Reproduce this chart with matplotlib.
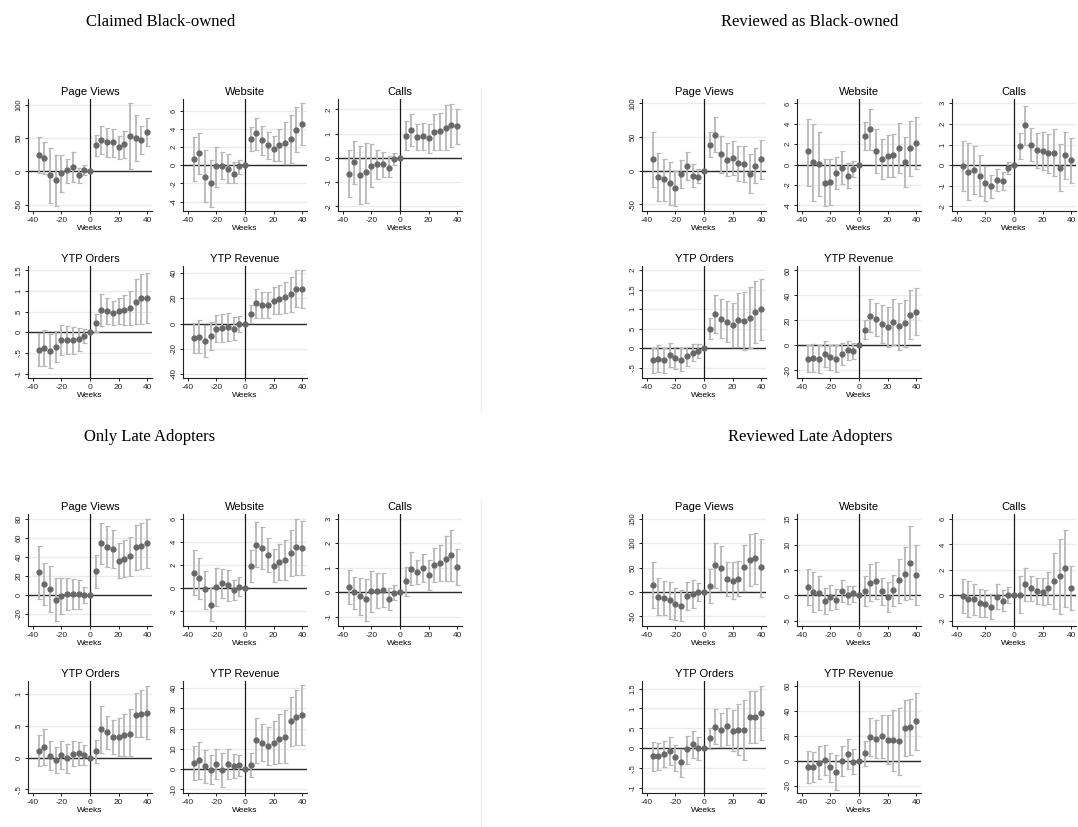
import numpy as np
import matplotlib.pyplot as plt
from matplotlib.lines import Line2D

nan = np.nan

weeks = [-36, -32, -28, -24, -20, -16, -12, -8, -4, 0, 4, 8, 12, 16, 20, 24, 28, 32, 36, 40]
outcomes = ["Page Views", "Website", "Calls", "YTP Orders", "YTP Revenue"]
panel_titles = ["Claimed Black-owned", "Reviewed as Black-owned",
                "Only Late Adopters", "Reviewed Late Adopters"]

# ---- Claimed Black-owned
claimed_pv = [25.5, 20, -5, -13, -2, 1.5, 7, -6, 2, 0, 39.5, 48, 44.5, 44.5, 37, 41, 53, 51, 48, 59.5]
claimed_pv_lo = [-3, -4, -48, -52, -31, -17, -16, -18, -6, nan, 23, 27, 22, 22, 19, 19.5, 4, 16, 27, 38]
claimed_pv_hi = [52, 45, 36, 25, 25, 19, 30, 5, 10, nan, 55, 69, 65, 64, 54, 61, 103, 85, 68, 81]
claimed_web = [0.7, 1.4, -1.25, -2.0, -0.1, -0.05, -0.35, -1.0, -0.1, 0, 2.9, 3.55, 2.8, 2.25, 1.85, 2.25, 2.45, 2.9, 3.95, 4.55]
claimed_web_lo = [-1.7, -0.9, -4.1, -4.6, -2.35, -1.55, -1.9, -2.0, -0.9, nan, 1.6, 1.7, 1.1, 0.75, 0.5, 0.5, 0.15, 0.25, 1.45, 2.3]
claimed_web_hi = [3.15, 3.6, 1.65, 0.6, 2.0, 1.45, 1.3, 0.4, 0.6, nan, 4.25, 5.3, 4.4, 3.65, 3.3, 4.0, 4.75, 5.55, 6.45, 6.9]
claimed_calls = [-0.67, -0.19, -0.73, -0.6, -0.32, -0.27, -0.26, -0.41, -0.07, 0, 0.92, 1.15, 0.85, 0.88, 0.81, 1.06, 1.1, 1.25, 1.35, 1.3]
claimed_calls_lo = [-1.64, -1.09, -1.92, -1.86, -1.22, -0.88, -0.78, -0.81, -0.3, nan, 0.32, 0.5, 0.32, 0.34, 0.21, 0.32, 0.34, 0.32, 0.45, 0.55]
claimed_calls_hi = [0.32, 0.69, 0.48, 0.63, 0.59, 0.32, 0.25, 0.07, 0.18, nan, 1.53, 1.83, 1.38, 1.42, 1.39, 1.83, 1.86, 2.2, 2.24, 2.03]
claimed_ord = [-0.42, -0.37, -0.45, -0.35, -0.19, -0.19, -0.19, -0.17, -0.08, 0, 0.23, 0.54, 0.52, 0.46, 0.52, 0.53, 0.58, 0.74, 0.82, 0.84]
claimed_ord_lo = [-0.82, -0.82, -0.87, -0.72, -0.56, -0.53, -0.53, -0.46, -0.26, nan, 0.01, 0.15, 0.2, 0.17, 0.19, 0.17, 0.17, 0.19, 0.21, 0.23]
claimed_ord_hi = [-0.02, 0.05, -0.04, 0.03, 0.17, 0.15, 0.13, 0.11, 0.09, nan, 0.45, 0.92, 0.82, 0.75, 0.84, 0.9, 1.0, 1.29, 1.42, 1.44]
claimed_rev = [-11.1, -10.3, -13.8, -9.8, -4.0, -3.4, -2.6, -4.0, 0, 0, 7.2, 15.9, 14.6, 14.6, 17.5, 19.1, 20.9, 23.1, 27.3, 27.3]
claimed_rev_lo = [-23.3, -23.6, -26.2, -20.9, -14.8, -14.3, -13.5, -12.7, -6.4, nan, 0.3, 4.2, 4.2, 4.2, 7.2, 7.4, 8.5, 9.5, 12.7, 12.5]
claimed_rev_hi = [0.8, 2.6, -0.8, 1.3, 6.4, 7.4, 8.2, 4.8, 6.1, nan, 14.3, 27.6, 25.2, 25.2, 28.9, 30.7, 33.1, 36.8, 42.1, 42.1]

# ---- Reviewed as Black-owned
reviewed_pv = [16.7, -9.3, -13, -18, -26, -5, 7, -8, -9, 0, 38.8, 53, 25, 16, 18.7, 10.8, 10, -4.4, 7.4, 16.7]
reviewed_pv_lo = [-24, -45, -45, -51, -52, -26, -14, -25, -18, nan, 20, 27, -3.4, -8, -6, -15, -17, -33, -19, -12]
reviewed_pv_hi = [57, 26, 18, 13, 0, 16, 28, 10, 2, nan, 57, 79, 52, 41, 44, 37, 37, 24, 34, 45]
reviewed_web = [1.28, 0.2, 0.07, -1.8, -1.74, -0.85, -0.33, -1.1, -0.46, 0, 2.76, 3.44, 1.34, 0.56, 0.85, 0.89, 1.67, 0.23, 1.6, 2.1]
reviewed_web_lo = [-2.1, -3.6, -3.1, -4.1, -4.0, -2.4, -1.93, -2.33, -1.25, nan, 1.38, 1.44, -0.85, -1.38, -1.21, -1.18, -0.79, -2.23, -1.08, -0.46]
reviewed_web_hi = [4.5, 4.0, 3.15, 0.5, 0.56, 0.7, 1.28, 0.13, 0.3, nan, 4.13, 5.44, 3.48, 2.5, 2.92, 2.98, 4.07, 2.69, 4.3, 4.62]
reviewed_calls = [-0.03, -0.32, -0.26, -0.53, -0.89, -1.02, -0.71, -0.78, -0.13, 0, 0.92, 1.93, 1.0, 0.71, 0.7, 0.57, 0.61, -0.13, 0.47, 0.23]
reviewed_calls_lo = [-1.28, -1.68, -1.42, -1.5, -1.72, -1.6, -1.24, -1.23, -0.44, nan, 0.28, 1.0, 0.18, -0.15, -0.26, -0.39, -0.55, -1.28, -0.68, -0.87]
reviewed_calls_hi = [1.15, 1.05, 0.91, 0.47, -0.03, -0.47, -0.19, -0.32, 0.16, nan, 1.55, 2.86, 1.81, 1.55, 1.63, 1.52, 1.76, 1.02, 1.6, 1.31]
reviewed_ord = [-0.31, -0.27, -0.31, -0.18, -0.26, -0.3, -0.21, -0.12, -0.085, 0, 0.5, 0.88, 0.75, 0.68, 0.59, 0.73, 0.7, 0.78, 0.94, 1.0]
reviewed_ord_lo = [-0.63, -0.61, -0.63, -0.48, -0.55, -0.58, -0.47, -0.34, -0.26, nan, 0.23, 0.39, 0.25, 0.15, 0.03, 0.03, -0.04, 0.0, 0.14, 0.21]
reviewed_ord_hi = [0.0, 0.07, 0.0, 0.12, 0.03, -0.01, 0.04, 0.1, 0.1, nan, 0.77, 1.36, 1.25, 1.21, 1.15, 1.42, 1.45, 1.57, 1.73, 1.77]
reviewed_rev = [-10.7, -10.4, -11.2, -6.9, -9.6, -10.9, -6.9, -4.0, -4.8, 0, 12.5, 23.7, 20.8, 17.1, 14.4, 18.7, 15.2, 17.6, 24.5, 26.9]
reviewed_rev_lo = [-21.6, -21.6, -22.4, -17.6, -20, -21.3, -16, -11.7, -11.2, nan, 5.1, 10.7, 7.5, 2.1, -1.3, 0.5, -4, -1.1, 5.3, 8.5]
reviewed_rev_hi = [0, 0.8, 0, 3.5, 0.5, 0, 1.9, 3.5, 1.6, nan, 20, 36.8, 33.9, 32, 30.4, 36.8, 34.1, 36.5, 44, 45.6]

# ---- Only Late Adopters
late_pv = [23.6, 10.9, 5.6, -5.3, -1.4, 1.1, 0.7, 0.35, 0, 0, 24.6, 54.2, 50.7, 48.2, 35.9, 38, 40.5, 50, 51, 54.2]
late_pv_lo = [-4.2, -11, -18.7, -27.8, -20.8, -16.2, -15.5, -14.8, -9.2, nan, 7.4, 32.4, 28.9, 28.5, 17.2, 19, 19.7, 26, 26.7, 28.5]
late_pv_hi = [51.4, 33.5, 30.6, 17.2, 17.9, 17.9, 16.9, 15.1, 8.4, nan, 41.5, 76, 72.5, 67.9, 54.9, 57.4, 61.2, 73.9, 75.3, 80.3]
late_web = [1.35, 0.86, -0.09, -1.41, 0.14, 0.43, 0.26, -0.12, 0.12, 0, 1.96, 3.77, 3.51, 2.85, 1.96, 2.28, 2.48, 3.08, 3.57, 3.51]
late_web_lo = [-0.6, -0.95, -1.76, -2.85, -1.53, -0.84, -1.09, -1.04, -0.66, nan, 0.58, 1.87, 1.7, 1.38, 0.55, 0.72, 0.72, 1.09, 1.12, 1.12]
late_web_hi = [3.3, 2.65, 1.53, 0.12, 1.79, 1.67, 1.58, 0.75, 0.95, nan, 3.34, 5.7, 5.32, 4.32, 3.37, 3.8, 4.2, 5.04, 6.0, 5.85]
late_calls = [0.22, 0.0, -0.16, -0.29, 0.04, 0.07, 0.08, -0.27, -0.03, 0, 0.44, 0.97, 0.82, 1.0, 0.71, 1.13, 1.19, 1.37, 1.52, 1.04]
late_calls_lo = [-0.46, -0.67, -0.93, -1.17, -0.79, -0.63, -0.6, -0.71, -0.33, nan, -0.16, 0.29, 0.33, 0.41, 0.11, 0.42, 0.44, 0.44, 0.48, 0.29]
late_calls_hi = [0.9, 0.64, 0.6, 0.56, 0.85, 0.77, 0.77, 0.19, 0.29, nan, 1.04, 1.65, 1.31, 1.57, 1.3, 1.82, 1.93, 2.32, 2.54, 1.78]
late_ord = [0.105, 0.17, 0.03, -0.04, 0.04, -0.005, 0.06, 0.07, 0.04, 0, 0.1, 0.45, 0.4, 0.33, 0.33, 0.36, 0.38, 0.67, 0.69, 0.71]
late_ord_lo = [-0.14, -0.12, -0.2, -0.25, -0.18, -0.24, -0.14, -0.12, -0.12, nan, -0.08, 0.07, 0.14, 0.06, 0.03, 0.02, 0.02, 0.32, 0.32, 0.3]
late_ord_hi = [0.35, 0.45, 0.26, 0.17, 0.26, 0.22, 0.26, 0.25, 0.2, nan, 0.27, 0.82, 0.66, 0.59, 0.63, 0.69, 0.77, 1.02, 1.07, 1.13]
late_rev = [3.0, 4.3, 1.5, -0.2, 2.5, -0.3, 2.6, 1.65, 1.8, 0, 2.1, 14.2, 13.0, 11.4, 13.0, 15.0, 16.0, 23.8, 25.6, 26.7]
late_rev_lo = [-5.4, -5.1, -6.8, -7.3, -5.1, -8.6, -4.8, -4.6, -3.5, nan, -3.8, 3.1, 4.0, 2.0, 2.5, 3.1, 2.8, 11.4, 12.0, 12.0]
late_rev_hi = [11.4, 13.5, 9.6, 7.1, 10.1, 7.9, 10.1, 7.6, 6.9, nan, 7.9, 25.4, 22.1, 20.8, 23.6, 27.1, 29.2, 35.8, 39.1, 41.6]

# ---- Reviewed Late Adopters
revlate_pv = [14.3, -9.5, -12.2, -17, -25.2, -28.6, -8.8, -4.8, 0.7, 0, 11.6, 54.4, 48.3, 25.8, 22.4, 26.5, 50.3, 65.3, 69.4, 50.3]
revlate_pv_lo = [-33, -48, -47.6, -55.8, -58.5, -59.8, -37.4, -34, -18.4, nan, -22.4, 8.8, 1.4, -8.2, -14.3, -7.5, 2, 12.2, 17, -9.5]
revlate_pv_hi = [62, 28, 21.8, 21, 8.8, 3.4, 19.7, 24.5, 17.7, nan, 47, 100, 95.2, 61.2, 60.5, 64, 97.2, 119, 121, 108.8]
revlate_web = [1.63, 0.65, 0.52, -1.1, -0.4, -0.8, 0.85, 0.13, 0.4, 0, 0.85, 2.5, 2.9, 0.78, -0.26, 0.98, 3.0, 4.3, 6.4, 4.0]
revlate_web_lo = [-1.9, -3.25, -2.85, -3.7, -2.85, -2.7, -1.3, -1.7, -1.2, nan, -2.1, -1.1, -0.7, -1.95, -3.2, -2.1, -1.43, -0.8, -0.65, -1.9]
revlate_web_hi = [5.1, 4.55, 3.8, 1.5, 2.15, 1.2, 3.05, 1.9, 1.9, nan, 3.77, 6.1, 6.6, 3.5, 2.67, 4.0, 7.2, 9.5, 13.6, 10]
revlate_calls = [-0.05, -0.31, -0.29, -0.58, -0.66, -0.89, -0.1, -0.42, 0.03, 0, 0.03, 0.87, 0.58, 0.34, 0.29, 0.58, 1.1, 1.5, 2.15, 0.58]
revlate_calls_lo = [-1.39, -1.7, -1.52, -1.7, -1.7, -1.84, -1.08, -1.23, -0.6, nan, -1.42, -0.47, -0.42, -0.66, -0.76, -0.71, -1.1, -1.47, -0.89, -1.2]
revlate_calls_hi = [1.26, 1.1, 0.92, 0.52, 0.39, 0.08, 0.87, 0.39, 0.66, nan, 1.5, 2.18, 1.55, 1.34, 1.34, 1.84, 3.3, 4.43, 5.14, 2.33]
revlate_ord = [-0.19, -0.19, -0.14, -0.06, -0.23, -0.35, -0.03, 0.1, 0.0, 0, 0.25, 0.54, 0.46, 0.55, 0.43, 0.46, 0.47, 0.78, 0.78, 0.88]
revlate_ord_lo = [-0.56, -0.54, -0.48, -0.41, -0.56, -0.73, -0.39, -0.24, -0.29, nan, -0.03, 0.1, 0.04, 0.08, -0.08, -0.18, -0.29, 0.12, 0.13, 0.21]
revlate_ord_hi = [0.16, 0.14, 0.18, 0.29, 0.08, -0.03, 0.32, 0.44, 0.28, nan, 0.52, 0.98, 0.88, 1.01, 0.96, 1.11, 1.21, 1.43, 1.43, 1.56]
revlate_rev = [-5.1, -5.1, -1.6, 0.5, -5.4, -9.4, 0, 5.6, -0.8, 0, 5.9, 18.8, 17.7, 19.6, 16.9, 16.4, 15.6, 26.3, 27.1, 31.7]
revlate_rev_lo = [-18, -17.5, -14.8, -11.8, -16.9, -23.4, -12.1, -6.7, -10.5, nan, -4, 3.5, 2.1, 2.1, -2.4, -8.6, -11.8, 3.5, 4.6, 8.3]
revlate_rev_hi = [7.8, 7, 11.5, 12.6, 6.2, 4.6, 12.1, 17.7, 9.4, nan, 15.8, 34.1, 33, 37, 36.5, 41, 42.4, 49.1, 49.9, 54.5]

# y tick values per panel (order follows outcomes)
claimed_yticks = [[-50, 0, 50, 100], [-4, -2, 0, 2, 4, 6], [-2, -1, 0, 1, 2],
                  [-1, -.5, 0, .5, 1, 1.5], [-40, -20, 0, 20, 40]]
reviewed_yticks = [[-50, 0, 50, 100], [-4, -2, 0, 2, 4, 6], [-2, -1, 0, 1, 2, 3],
                   [-.5, 0, .5, 1, 1.5, 2], [-20, 0, 20, 40, 60]]
late_yticks = [[-20, 0, 20, 40, 60, 80], [-2, 0, 2, 4, 6], [-1, 0, 1, 2, 3],
               [-.5, 0, .5, 1], [-10, 0, 10, 20, 30, 40]]
revlate_yticks = [[-50, 0, 50, 100, 150], [-5, 0, 5, 10, 15], [-2, 0, 2, 4, 6],
                  [-1, -.5, 0, .5, 1, 1.5], [-20, 0, 20, 40, 60]]

claimed_ylim = [(-59.5, 109), (-5.05, 7.35), (-2.2, 2.43), (-1.105, 1.605), (-43.2, 45.6)]
reviewed_ylim = [(-60, 106.5), (-4.56, 6.43), (-2.23, 3.21), (-0.77, 2.11), (-26.1, 63.5)]
late_ylim = [(-33, 85.3), (-3.27, 6.43), (-1.38, 3.2), (-0.56, 1.21), (-11.8, 43.5)]
revlate_ylim = [(-70, 160), (-6, 16), (-2.42, 6.39), (-1.125, 1.69), (-26, 64)]

panels = [
    ([(claimed_pv, claimed_pv_lo, claimed_pv_hi), (claimed_web, claimed_web_lo, claimed_web_hi),
      (claimed_calls, claimed_calls_lo, claimed_calls_hi), (claimed_ord, claimed_ord_lo, claimed_ord_hi),
      (claimed_rev, claimed_rev_lo, claimed_rev_hi)], claimed_yticks, claimed_ylim),
    ([(reviewed_pv, reviewed_pv_lo, reviewed_pv_hi), (reviewed_web, reviewed_web_lo, reviewed_web_hi),
      (reviewed_calls, reviewed_calls_lo, reviewed_calls_hi), (reviewed_ord, reviewed_ord_lo, reviewed_ord_hi),
      (reviewed_rev, reviewed_rev_lo, reviewed_rev_hi)], reviewed_yticks, reviewed_ylim),
    ([(late_pv, late_pv_lo, late_pv_hi), (late_web, late_web_lo, late_web_hi),
      (late_calls, late_calls_lo, late_calls_hi), (late_ord, late_ord_lo, late_ord_hi),
      (late_rev, late_rev_lo, late_rev_hi)], late_yticks, late_ylim),
    ([(revlate_pv, revlate_pv_lo, revlate_pv_hi), (revlate_web, revlate_web_lo, revlate_web_hi),
      (revlate_calls, revlate_calls_lo, revlate_calls_hi), (revlate_ord, revlate_ord_lo, revlate_ord_hi),
      (revlate_rev, revlate_rev_lo, revlate_rev_hi)], revlate_yticks, revlate_ylim),
]

W, H = 1078, 827
plt.rcParams['font.family'] = ['Liberation Sans', 'DejaVu Sans']
fig = plt.figure(figsize=(W / 100, H / 100), dpi=100, facecolor='white')


def stata_label(v):
    s = f"{v:g}"
    return s.replace("0.", ".")


def place(x, y, w, h):
    return fig.add_axes([x / W, 1 - (y + h) / H, w / W, h / H])


def event_plot(ax, title, coef, lo, hi, yticks, ylim):
    b = np.array(coef, dtype=float)
    l = np.array(lo, dtype=float)
    u = np.array(hi, dtype=float)
    for yt in yticks:
        ax.axhline(yt, color='#ebebeb', lw=1.0, zorder=0)
    ax.axhline(0, color='#2b2b2b', lw=1.0, zorder=1)
    ax.axvline(0, color='#1a1a1a', lw=0.9, zorder=1)
    ax.errorbar(weeks, b, yerr=[b - l, u - b], fmt='none', ecolor='#b8b8b8',
                elinewidth=1.3, capsize=1.8, capthick=0.9, zorder=2)
    ax.plot(weeks, b, 'o', color='#686868', ms=3.5, mec='#686868', zorder=3)
    ax.set_xlim(-43.5, 43.5)
    ax.set_ylim(*ylim)
    ax.set_xticks([-40, -20, 0, 20, 40])
    ax.set_xticklabels(['-40', '-20', '0', '20', '40'], fontsize=6)
    ax.set_yticks(yticks)
    ax.set_yticklabels([stata_label(v) for v in yticks], rotation=90,
                       va='center', fontsize=5.5)
    ax.set_xlabel('Weeks', fontsize=6, labelpad=1)
    ax.set_title(title, fontsize=8, pad=3)
    for side in ['top', 'right']:
        ax.spines[side].set_visible(False)
    for side in ['left', 'bottom']:
        ax.spines[side].set_color('#222222')
        ax.spines[side].set_linewidth(0.8)
    ax.tick_params(length=2.5, width=0.7, pad=1.5, colors='#222222')
    ax.set_facecolor('white')


col_x = [28, 183, 338]
row_y = [99, 266]
offsets = [(0, 0), (614, 0), (0, 415), (614, 415)]
title_pos = [(161, 22), (810, 22), (150, 437), (810, 437)]

for p, (series, yticks, ylims) in enumerate(panels):
    dx, dy = offsets[p]
    for k in range(5):
        r, c = divmod(k, 3)
        ax = place(col_x[c] + dx, row_y[r] + dy, 124, 112)
        b, lo, hi = series[k]
        event_plot(ax, outcomes[k], b, lo, hi, yticks[k], ylims[k])
    tx, ty = title_pos[p]
    fig.text(tx / W, 1 - ty / H, panel_titles[p], ha='center', va='center',
             family=['Liberation Serif', 'DejaVu Serif'], fontsize=12)

# faint divider between the left and right graphs
for y0, y1 in [(88, 412), (500, 827)]:
    fig.add_artist(Line2D([481 / W, 481 / W], [1 - y0 / H, 1 - y1 / H],
                          color='#f0f0f0', lw=1))

fig.savefig('out.png', dpi=100)
